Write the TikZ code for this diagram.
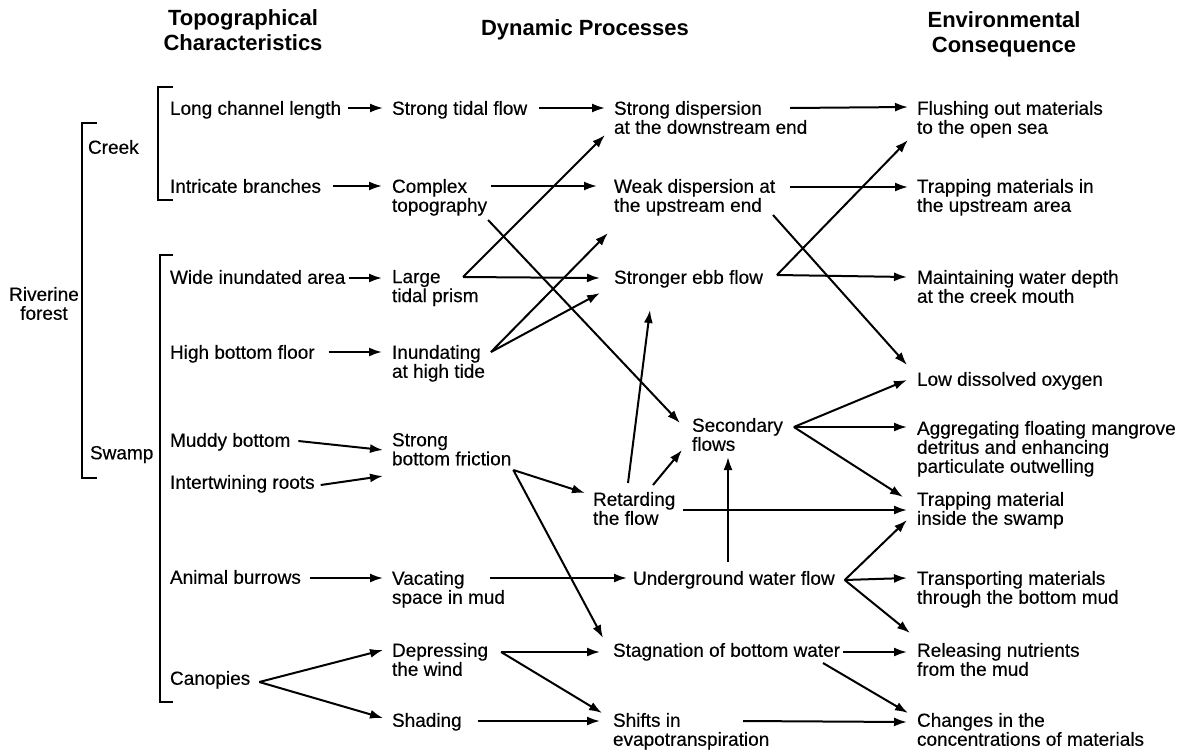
\documentclass[tikz,border=0pt]{standalone}
\usepackage{fontspec}
\setmainfont{Liberation Sans}
\newfontfamily\bodyfont{Liberation Sans}[FakeBold=0.35]
\usetikzlibrary{arrows.meta,calc}
\begin{document}
\begin{tikzpicture}[x=1pt,y=-1pt,
  txt/.style={anchor=north west,inner sep=0pt,outer sep=0pt,align=left,font=\bodyfont\fontsize{19}{19}\selectfont},
  ttl/.style={anchor=north,inner sep=0pt,outer sep=0pt,align=center,font=\fontsize{22}{25}\selectfont\bfseries},
  arr/.style={line width=2pt,-{Latex[length=13pt,width=9pt]}},
  brk/.style={line width=2pt}]
\useasboundingbox (0,0) rectangle (1190,750);
% titles
\node[ttl] (t1) at (243,10) {Topographical\\Characteristics};
\node[ttl] (t2) at (585,20) {Dynamic Processes};
\node[ttl] (t3) at (1004,12) {Environmental\\Consequence};
% left labels
\node[txt,anchor=north,align=center] (rvf) at (44,287) {Riverine\\forest};
\node[txt] (creek) at (88,140) {Creek};
\node[txt] (swamp) at (90,446) {Swamp};
% column 1
\node[txt] (lcl) at (170,101) {Long channel length};
\node[txt] (ib)  at (170,179) {Intricate branches};
\node[txt] (wia) at (170,270) {Wide inundated area};
\node[txt] (hbf) at (170,345) {High bottom floor};
\node[txt] (mb)  at (170,433) {Muddy bottom};
\node[txt] (ir)  at (170,475) {Intertwining roots};
\node[txt] (ab)  at (170,570) {Animal burrows};
\node[txt] (can) at (170,671) {Canopies};
% column 2
\node[txt] (stf) at (392,101) {Strong tidal flow};
\node[txt] (ct)  at (392,179) {Complex\\topography};
\node[txt] (ltp) at (392,270) {Large\\tidal prism};
\node[txt] (iht) at (392,345) {Inundating\\at high tide};
\node[txt] (sbf) at (392,433) {Strong\\bottom friction};
\node[txt] (vsm) at (392,571) {Vacating\\space in mud};
\node[txt] (dw)  at (392,643) {Depressing\\the wind};
\node[txt] (sh)  at (392,713) {Shading};
% column 3
\node[txt] (sd)  at (614,101) {Strong dispersion\\at the downstream end};
\node[txt] (wd)  at (614,179) {Weak dispersion at\\the upstream end};
\node[txt] (seb) at (614,270) {Stronger ebb flow};
\node[txt] (sf)  at (692,418) {Secondary\\flows};
\node[txt] (rtf) at (593,492) {Retarding\\the flow};
\node[txt] (uwf) at (633,571) {Underground water flow};
\node[txt] (sbw) at (613,643) {Stagnation of bottom water};
\node[txt] (se)  at (613,713) {Shifts in\\evapotranspiration};
% column 4
\node[txt] (fo)  at (917,101) {Flushing out materials\\to the open sea};
\node[txt] (tm)  at (917,179) {Trapping materials in\\the upstream area};
\node[txt] (mw)  at (917,270) {Maintaining water depth\\at the creek mouth};
\node[txt] (ldo) at (917,372) {Low dissolved oxygen};
\node[txt] (agg) at (917,421) {Aggregating floating mangrove\\detritus and enhancing\\particulate outwelling};
\node[txt] (tms) at (917,492) {Trapping material\\inside the swamp};
\node[txt] (tbm) at (917,571) {Transporting materials\\through the bottom mud};
\node[txt] (rn)  at (917,643) {Releasing nutrients\\from the mud};
\node[txt] (cc)  at (917,713) {Changes in the\\concentrations of materials};
% brackets
\draw[brk] (97,123) -- (82,123) -- (82,478) -- (97,478);
\draw[brk] (173,87) -- (158,87) -- (158,200) -- (173,200);
\draw[brk] (173,255) -- (160,255) -- (160,702) -- (173,702);
% column 1 -> 2
\draw[arr] ($(lcl.north east)+(7,7)$) -- ($(stf.north west)+(-9,7)$);
\draw[arr] ($(ib.north east)+(12,7)$) -- ($(ct.north west)+(-10,7)$);
\draw[arr] ($(wia.north east)+(4,8)$) -- ($(ltp.north west)+(-10,8)$);
\draw[arr] ($(hbf.north east)+(14,7)$) -- ($(iht.north west)+(-10,7)$);
\draw[arr] ($(mb.north east)+(8,8)$) -- ($(sbf.north west)+(-9,17)$);
\draw[arr] ($(ir.north east)+(6,10)$) -- ($(sbf.north west)+(-9,43)$);
\draw[arr] ($(ab.north east)+(9,8)$) -- ($(vsm.north west)+(-9,7)$);
\coordinate (canA) at ($(can.north east)+(9,11)$);
\draw[arr] (canA) -- ($(dw.north west)+(-9,7)$);
\draw[arr] (canA) -- ($(sh.north west)+(-9,5)$);
% column 2 -> 3
\draw[arr] ($(stf.north east)+(12,7)$) -- ($(sd.north west)+(-9,7)$);
\draw[arr] ($(ct.north east)+(4,7)$) -- ($(wd.north west)+(-17,7)$);
\draw[arr] ($(ct.north east)+(1,41)$) -- ($(sf.north west)+(-12,5)$);
\coordinate (ltpA) at ($(ltp.north west)+(71,7)$);
\draw[arr] (ltpA) -- ($(sd.north west)+(-9,34)$);
\draw[arr] (ltpA) -- ($(seb.north west)+(-14,8)$);
\coordinate (ihtA) at ($(iht.north east)+(6,7)$);
\draw[arr] (ihtA) -- ($(wd.north west)+(-6,54)$);
\draw[arr] (ihtA) -- ($(seb.north west)+(-14,23)$);
\coordinate (sbfA) at ($(sbf.north east)+(2,37)$);
\draw[arr] (sbfA) -- ($(rtf.north west)+(-8,1)$);
\draw[arr] (sbfA) -- ($(sbw.north west)+(-10,-5)$);
\draw[arr] ($(rtf.north west)+(35,-9)$) -- ($(seb.north west)+(36,40)$);
\draw[arr] ($(rtf.north west)+(60,-7)$) -- ($(sf.north west)+(-10,32)$);
\draw[arr] ($(rtf.north east)+(7.5,18)$) -- ($(tms.north west)+(-10,18)$);
\draw[arr] ($(vsm.north west)+(98,7)$) -- ($(uwf.north west)+(-6,7)$);
\draw[arr] ($(uwf.north west)+(95,-9)$) -- ($(sf.north west)+(36,39)$);
\coordinate (dwA) at ($(dw.north east)+(13,9)$);
\draw[arr] (dwA) -- ($(sbw.north west)+(-13,9)$);
\draw[arr] (dwA) -- ($(se.north west)+(-11,0)$);
\draw[arr] ($(sh.north east)+(16,8)$) -- ($(se.north west)+(-13,8)$);
% column 3 -> 4
\draw[arr] ($(sd.north west)+(176,7)$) -- ($(fo.north west)+(-9,6)$);
\draw[arr] ($(wd.north west)+(176,8)$) -- ($(tm.north west)+(-9,8)$);
\draw[arr] ($(wd.north west)+(159,36)$) -- ($(ldo.north west)+(-10,-7)$);
\coordinate (sebA) at ($(seb.north east)+(14,5)$);
\draw[arr] (sebA) -- ($(fo.north west)+(-9,39)$);
\draw[arr] (sebA) -- ($(mw.north west)+(-10,7)$);
\coordinate (sfA) at ($(sf.north east)+(11,9)$);
\draw[arr] (sfA) -- ($(ldo.north west)+(-10,8)$);
\draw[arr] (sfA) -- ($(agg.north west)+(-10,6)$);
\draw[arr] (sfA) -- ($(tms.north west)+(-14,5)$);
\coordinate (uwfA) at ($(uwf.north east)+(10,9)$);
\draw[arr] (uwfA) -- ($(tms.north west)+(-10,28)$);
\draw[arr] (uwfA) -- ($(tbm.north west)+(-10,7)$);
\draw[arr] (uwfA) -- ($(rn.north west)+(-7,-10)$);
\draw[arr] ($(sbw.north east)+(3,9)$) -- ($(rn.north west)+(-10,9)$);
\draw[arr] ($(sbw.north west)+(210,20)$) -- ($(cc.north west)+(-9,0)$);
\draw[arr] ($(se.north west)+(130,8)$) -- ($(cc.north west)+(-10,9)$);
\end{tikzpicture}
\end{document}
